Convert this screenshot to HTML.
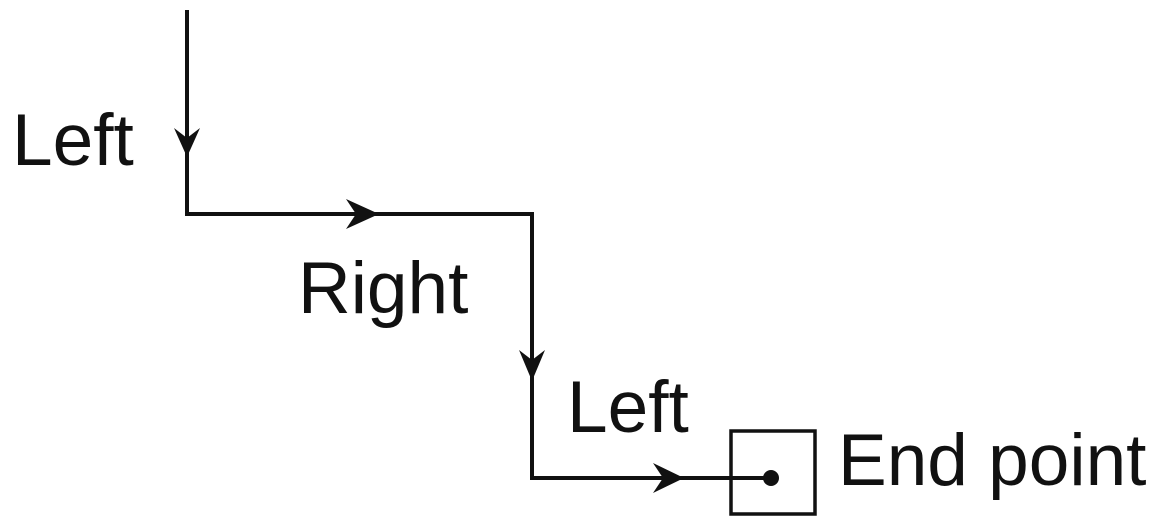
<!DOCTYPE html>
<html><head><meta charset="utf-8"><style>
html,body{margin:0;padding:0;background:#fff;}
svg{display:block}
text{font-family:"Liberation Sans",sans-serif;font-size:73px;fill:#111;}
</style></head><body>
<svg width="1165" height="523" viewBox="0 0 1165 523">
<g stroke="#111" stroke-width="4" fill="none">
<polyline points="187,10 187,214 532,214 532,478 771,478"/>
<rect x="731" y="431" width="84" height="83" stroke-width="3.5"/>
</g>
<g fill="#111">
<path d="M174,128 L187,157 L200,128 L187,138 Z"/>
<path d="M346,199 L379,214 L346,229 L356,214 Z"/>
<path d="M519,350 L532,381 L545,350 L532,360 Z"/>
<path d="M653,463 L684,478 L653,493 L663,478 Z"/>
<circle cx="771" cy="478" r="8"/>
</g>
<text x="12" y="165">Left</text>
<text x="298" y="313">Right</text>
<text x="567" y="432">Left</text>
<text x="838" y="485">End point</text>
</svg>
</body></html>
